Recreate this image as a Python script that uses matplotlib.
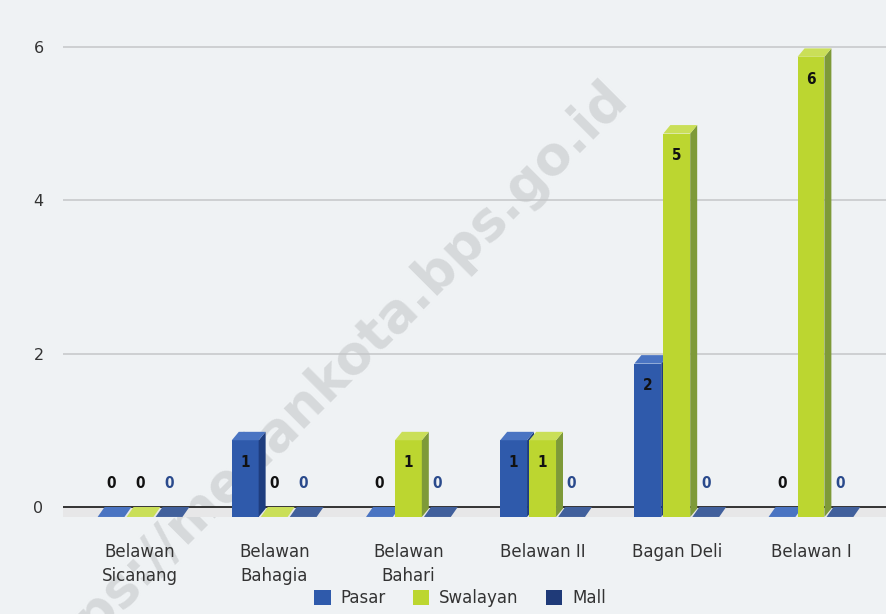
import numpy as np
import matplotlib
matplotlib.use("Agg")
import matplotlib.pyplot as plt
from matplotlib.patches import Polygon, FancyBboxPatch

# data
kelurahan = ["Belawan\nSicanang", "Belawan\nBahagia", "Belawan\nBahari",
             "Belawan II", "Bagan Deli", "Belawan I"]
pasar = [0, 1, 0, 1, 2, 0]
swalayan = [0, 0, 1, 1, 5, 6]
mall = [0, 0, 0, 0, 0, 0]
series_names = ["Pasar", "Swalayan", "Mall"]

# colours: front, side, top, label
styles = [
    ("#2f5aab", "#1e3d7e", "#4a74c2", "#111111"),
    ("#bcd630", "#7e9a38", "#cadf58", "#111111"),
    ("#29488a", "#1c3266", "#41609c", "#2a4a8c"),
]
legend_colors = ["#2f5aab", "#bcd630", "#1f3a78"]

bg = "#eff2f4"
fig = plt.figure(figsize=(8.86, 6.14), dpi=100, facecolor=bg)
ax = fig.add_axes([63 / 886, 1 - 525 / 614, 823 / 886, 505 / 614])
ax.set_facecolor(bg)

ax.set_xlim(-0.574, 5.559)
ax.set_ylim(-0.235, 6.35)

for s in ax.spines.values():
    s.set_visible(False)

ax.set_yticks([0, 2, 4, 6])
ax.tick_params(axis="y", length=0, pad=14, labelsize=11.5, labelcolor="#333333")
for g in [2, 4, 6]:
    ax.axhline(g, color="#c4c6c8", lw=1.1, zorder=1)

# floor band + zero line
ax.axhspan(-0.13, 0, color="#e7e7e8", zorder=1, lw=0)
ax.axhline(0, color="#333333", lw=1.4, zorder=2)

x = np.arange(len(kelurahan))
ax.set_xticks(x)
ax.set_xticklabels(kelurahan, fontsize=12, color="#333333", linespacing=1.45)
ax.tick_params(axis="x", length=0, pad=13)

pitch = 0.216
w = 0.2
dx = 0.052
dy = 0.11
b0 = -0.13

for k, vals in enumerate([pasar, swalayan, mall]):
    front, side, top, lab = styles[k]
    xs = x + (k - 1) * pitch
    for xi, v in zip(xs, vals):
        xl, xr = xi - w / 2, xi + w / 2
        yt = v + b0
        if v > 0:
            ax.add_patch(Polygon([(xl, b0), (xr, b0), (xr, yt), (xl, yt)],
                                 closed=True, fc=front, ec="none", zorder=4))
            ax.add_patch(Polygon([(xr, b0), (xr + dx, b0 + dy), (xr + dx, yt + dy), (xr, yt)],
                                 closed=True, fc=side, ec="none", zorder=4))
            ax.add_patch(Polygon([(xl, yt), (xr, yt), (xr + dx, yt + dy), (xl + dx, yt + dy)],
                                 closed=True, fc=top, ec="none", zorder=4))
            ax.text(xi, v - 0.42, str(v), ha="center", va="center", fontsize=11,
                    fontweight="bold", color=lab, fontstretch="condensed", zorder=5)
        else:
            ax.add_patch(Polygon([(xl, b0), (xr, b0), (xr + dx, b0 + dy + 0.02), (xl + dx, b0 + dy + 0.02)],
                                 closed=True, fc=top, ec="none", zorder=4))
            ax.text(xi, 0.31, str(v), ha="center", va="center", fontsize=11,
                    fontweight="bold", color=lab, fontstretch="condensed", zorder=5)

# watermark, behind the bars
ax.text(320 / 886, 1 - 388 / 614, "https://medankota.bps.go.id", rotation=45,
        rotation_mode="anchor", transform=fig.transFigure, ha="center", va="center",
        fontsize=38, fontweight="bold", color="#d6d9db", zorder=0.5, clip_on=False)

# legend
handles = [FancyBboxPatch((0, 0), 1, 1, fc=c, ec="none") for c in legend_colors]
leg = fig.legend(handles, series_names, loc="center", ncol=3, frameon=False,
                 bbox_to_anchor=(460 / 886, 16 / 614), fontsize=12,
                 handlelength=1.0, handleheight=1.0, handletextpad=0.6,
                 columnspacing=1.6, labelcolor="#333333")

fig.savefig("out.png", dpi=100, facecolor=bg)
